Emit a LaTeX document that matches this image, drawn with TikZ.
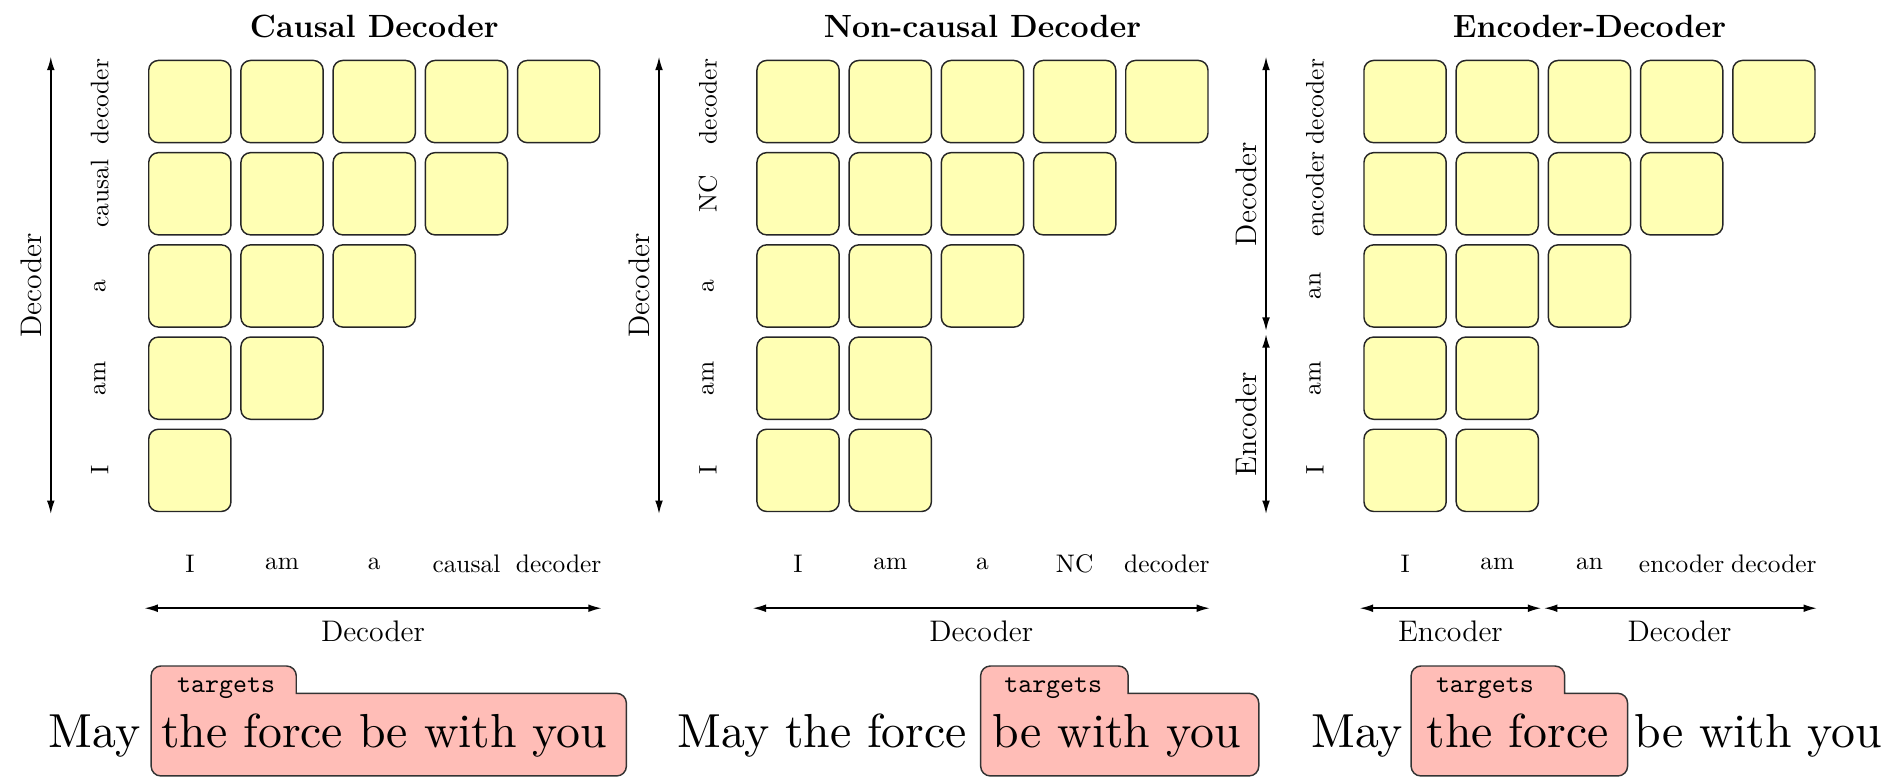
\documentclass[tikz,border=0pt]{standalone}
\usetikzlibrary{arrows.meta}
\definecolor{cellyellow}{RGB}{255,255,180}
\definecolor{tgtpink}{RGB}{255,189,183}
\font\bigrm="[lmroman10-regular.otf]" at 19.75pt
\font\tgtt="[lmmono10-regular.otf]" at 11pt
\begin{document}
\begin{tikzpicture}[x=0.5pt,y=0.5pt,
  cell/.style={draw=black!85, fill=cellyellow, rounded corners=4pt, minimum width=34pt, minimum height=34pt, line width=0.6pt, inner sep=0pt},
  ttl/.style={font=\fontsize{13.3}{16}\selectfont\bfseries, inner sep=0pt},
  lab/.style={font=\fontsize{10.5}{12}\selectfont, inner sep=0pt},
  axlab/.style={font=\fontsize{12.3}{14}\selectfont, inner sep=0pt},
  tglab/.style={font=\tgtt, inner sep=0pt, anchor=base},
  big/.style={font=\bigrm, inner sep=0pt, anchor=base west},
  dbl/.style={{Latex[length=5.5pt,width=3.2pt]}-{Latex[length=5.5pt,width=3.2pt]}, line width=0.6pt},
  tgt/.style={draw=black!80, fill=tgtpink, line width=0.6pt}]
\useasboundingbox (0,0) rectangle (1568,643);

% ---------------- Panel 1: Causal Decoder ----------------
\node[ttl] (t1) at (309.5,621) {Causal Decoder};
\foreach \r/\n in {1/5,2/4,3/3,4/2,5/1}
  \foreach \c in {1,...,\n}
    \node[cell] (c1-\r-\c) at ({157+76.25*(\c-1)},{559-76.25*(\r-1)}) {};
\foreach \t [count=\r] in {decoder,causal,a,am,I}
  \node[lab, rotate=90] (rl1-\r) at (82.5,{559-76.25*(\r-1)}) {\t};
\foreach \t [count=\c] in {I,am,a,causal,decoder}
  \node[lab] (cl1-\c) at ({157+76.25*(\c-1)},177) {\t};
\coordinate (v1t) at (42,596);
\coordinate (v1b) at (42,218);
\draw[dbl] (v1t) -- (v1b);
\node[axlab, rotate=90] (va1) at (26,407) {Decoder};
\coordinate (h1l) at (119.5,140);
\coordinate (h1r) at (497.5,140);
\draw[dbl] (h1l) -- (h1r);
\node[axlab] (ha1) at (308.5,121) {Decoder};
\draw[tgt] (125,9.3) -- (125,84.2) arc[start angle=180,end angle=90,radius=8]
  -- (237,92.2) arc[start angle=90,end angle=0,radius=8] -- (245,69.6)
  -- (510,69.6) arc[start angle=90,end angle=0,radius=8] -- (518,9.3)
  arc[start angle=0,end angle=-90,radius=8] -- (133,1.3)
  arc[start angle=270,end angle=180,radius=8] -- cycle;
\node[tglab] (tg1) at (187,70) {targets};
\node[big] (s1a) at (40,25.2) {May};
\node[big] (s1b) at (133,25.2) {the force be with you};

% ---------------- Panel 2: Non-causal Decoder ----------------
\node[ttl] (t2) at (812.5,621) {Non-causal Decoder};
\foreach \r/\n in {1/5,2/4,3/3,4/2,5/2}
  \foreach \c in {1,...,\n}
    \node[cell] (c2-\r-\c) at ({660+76.25*(\c-1)},{559-76.25*(\r-1)}) {};
\foreach \t [count=\r] in {decoder,NC,a,am,I}
  \node[lab, rotate=90] (rl2-\r) at (585.5,{559-76.25*(\r-1)}) {\t};
\foreach \t [count=\c] in {I,am,a,NC,decoder}
  \node[lab] (cl2-\c) at ({660+76.25*(\c-1)},177) {\t};
\coordinate (v2t) at (545,596);
\coordinate (v2b) at (545,218);
\draw[dbl] (v2t) -- (v2b);
\node[axlab, rotate=90] (va2) at (529,407) {Decoder};
\coordinate (h2l) at (622.5,140);
\coordinate (h2r) at (1000.5,140);
\draw[dbl] (h2l) -- (h2r);
\node[axlab] (ha2) at (811.5,121) {Decoder};
\draw[tgt] (811,9.3) -- (811,84.2) arc[start angle=180,end angle=90,radius=8]
  -- (925,92.2) arc[start angle=90,end angle=0,radius=8] -- (933,69.6)
  -- (1033,69.6) arc[start angle=90,end angle=0,radius=8] -- (1041,9.3)
  arc[start angle=0,end angle=-90,radius=8] -- (819,1.3)
  arc[start angle=270,end angle=180,radius=8] -- cycle;
\node[tglab] (tg2) at (871,70) {targets};
\node[big] (s2a) at (560,25.2) {May the force};
\node[big] (s2b) at (820.5,25.2) {be with you};

% ---------------- Panel 3: Encoder-Decoder ----------------
\node[ttl] (t3) at (1314.5,621) {Encoder-Decoder};
\foreach \r/\n in {1/5,2/4,3/3,4/2,5/2}
  \foreach \c in {1,...,\n}
    \node[cell] (c3-\r-\c) at ({1162+76.25*(\c-1)},{559-76.25*(\r-1)}) {};
\foreach \t [count=\r] in {decoder,encoder,an,am,I}
  \node[lab, rotate=90] (rl3-\r) at (1087.5,{559-76.25*(\r-1)}) {\t};
\foreach \t [count=\c] in {I,am,an,encoder,decoder}
  \node[lab] (cl3-\c) at ({1162+76.25*(\c-1)},177) {\t};
\coordinate (v3t) at (1047,596);
\coordinate (v3m1) at (1047,369.5);
\coordinate (v3m2) at (1047,366.5);
\coordinate (v3b) at (1047,218);
\draw[dbl] (v3t) -- (v3m1);
\draw[dbl] (v3m2) -- (v3b);
\node[axlab, rotate=90] (va3d) at (1031,482.5) {Decoder};
\node[axlab, rotate=90] (va3e) at (1031,292) {Encoder};
\coordinate (h3l) at (1124.5,140);
\coordinate (h3m1) at (1274.5,140);
\coordinate (h3m2) at (1277,140);
\coordinate (h3r) at (1502.5,140);
\draw[dbl] (h3l) -- (h3m1);
\draw[dbl] (h3m2) -- (h3r);
\node[axlab] (ha3e) at (1199.5,121) {Encoder};
\node[axlab] (ha3d) at (1389,121) {Decoder};
\draw[tgt] (1167,9.3) -- (1167,84.2) arc[start angle=180,end angle=90,radius=8]
  -- (1286,92.2) arc[start angle=90,end angle=0,radius=8] -- (1294,69.6)
  -- (1338,69.6) arc[start angle=90,end angle=0,radius=8] -- (1346,9.3)
  arc[start angle=0,end angle=-90,radius=8] -- (1175,1.3)
  arc[start angle=270,end angle=180,radius=8] -- cycle;
\node[tglab] (tg3) at (1228,70) {targets};
\node[big] (s3a) at (1084,25.2) {May};
\node[big] (s3b) at (1179.5,25.2) {the force};
\node[big] (s3c) at (1351,25.2) {be with you};
\end{tikzpicture}
\end{document}
